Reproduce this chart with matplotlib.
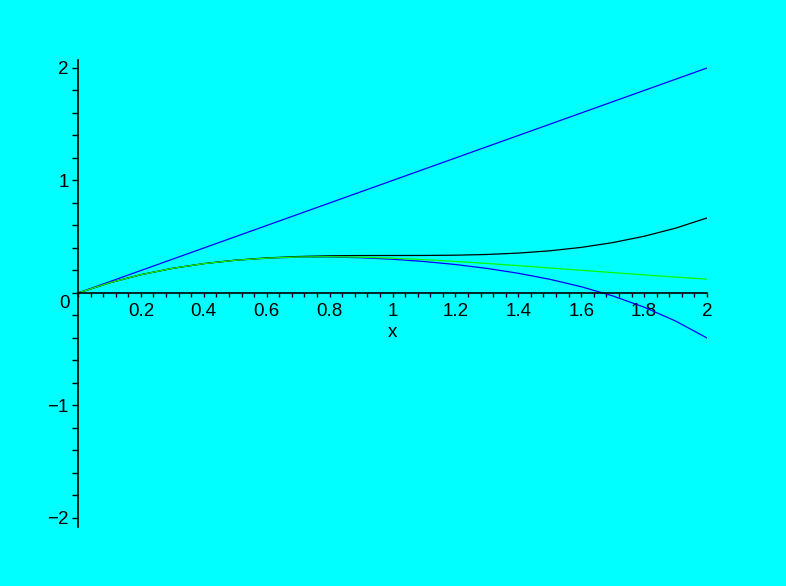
import numpy as np
import matplotlib
matplotlib.use("Agg")
import matplotlib.pyplot as plt
from matplotlib.ticker import MultipleLocator, FixedLocator, FixedFormatter

# sample points, x step 0.1
x = [0.0, 0.1, 0.2, 0.3, 0.4, 0.5, 0.6, 0.7, 0.8, 0.9, 1.0,
     1.1, 1.2, 1.3, 1.4, 1.5, 1.6, 1.7, 1.8, 1.9, 2.0]
line_y = [0.0, 0.1, 0.2, 0.3, 0.4, 0.5, 0.6, 0.7, 0.8, 0.9, 1.0,
          1.1, 1.2, 1.3, 1.4, 1.5, 1.6, 1.7, 1.8, 1.9, 2.0]
cubic_y = [0.0, 0.0903, 0.1627, 0.219, 0.2613, 0.2917, 0.312, 0.3243, 0.3307, 0.333, 0.3333,
           0.3337, 0.336, 0.3423, 0.3547, 0.375, 0.4053, 0.4477, 0.504, 0.5763, 0.6667]
quintic_y = [0.0, 0.0903, 0.1627, 0.2189, 0.261, 0.2906, 0.3094, 0.3187, 0.3197, 0.3133, 0.3,
             0.28, 0.2531, 0.2186, 0.1754, 0.1219, 0.0558, -0.0256, -0.1259, -0.249, -0.4]
green_y = [0.0, 0.0903, 0.1627, 0.2189, 0.261, 0.2908, 0.3099, 0.3199, 0.3223, 0.3185, 0.3096,
           0.2967, 0.2807, 0.2626, 0.243, 0.2226, 0.2018, 0.1812, 0.161, 0.1415, 0.1231]

x_ticks = [0.2, 0.4, 0.6, 0.8, 1.0, 1.2, 1.4, 1.6, 1.8, 2.0]
x_labels = ["0.2", "0.4", "0.6", "0.8", "1", "1.2", "1.4", "1.6", "1.8", "2"]
y_ticks = [-2, -1, 1, 2]
y_labels = ["\u22122", "\u22121", "1", "2"]

bg = "#00ffff"
plt.rcParams['font.family'] = ['Liberation Sans', 'DejaVu Sans']

fig = plt.figure(figsize=(7.86, 5.86), dpi=100, facecolor=bg)
ax = fig.add_axes([78 / 786, 1 - 527 / 586, 629 / 786, 467 / 586], facecolor=bg)

lw = 0.9
ax.plot(x, line_y, color="#0000ff", lw=lw)
ax.plot(x, quintic_y, color="#0000ff", lw=lw)
ax.plot(x, cubic_y, color="black", lw=lw)
ax.plot(x, green_y, color="#00ff00", lw=lw)

ax.set_xlim(0, 2)
ax.set_ylim(-2.08, 2.071)

ax.spines['top'].set_visible(False)
ax.spines['right'].set_visible(False)
ax.spines['bottom'].set_position(('data', 0))
ax.spines['left'].set_linewidth(1.2)
ax.spines['bottom'].set_linewidth(1.2)

ax.xaxis.set_major_locator(FixedLocator(x_ticks))
ax.xaxis.set_major_formatter(FixedFormatter(x_labels))
ax.xaxis.set_minor_locator(MultipleLocator(0.04))
ax.yaxis.set_major_locator(FixedLocator(y_ticks))
ax.yaxis.set_major_formatter(FixedFormatter(y_labels))
ax.yaxis.set_minor_locator(MultipleLocator(0.2))

fs = 13.5
ax.tick_params(axis='x', which='both', direction='out', length=3, width=1, pad=4, labelsize=fs)
ax.tick_params(axis='y', which='both', direction='out', length=4.3, width=1, pad=2.5, labelsize=fs)

ax.annotate("0", xy=(0, 0), xytext=(-9.5, -7.5), textcoords='offset points',
            ha='center', va='center', fontsize=fs)
ax.annotate("x", xy=(1, 0), xytext=(0, -28.5), textcoords='offset points',
            ha='center', va='center', fontsize=fs)

fig.savefig("out.png", dpi=100, facecolor=bg)
